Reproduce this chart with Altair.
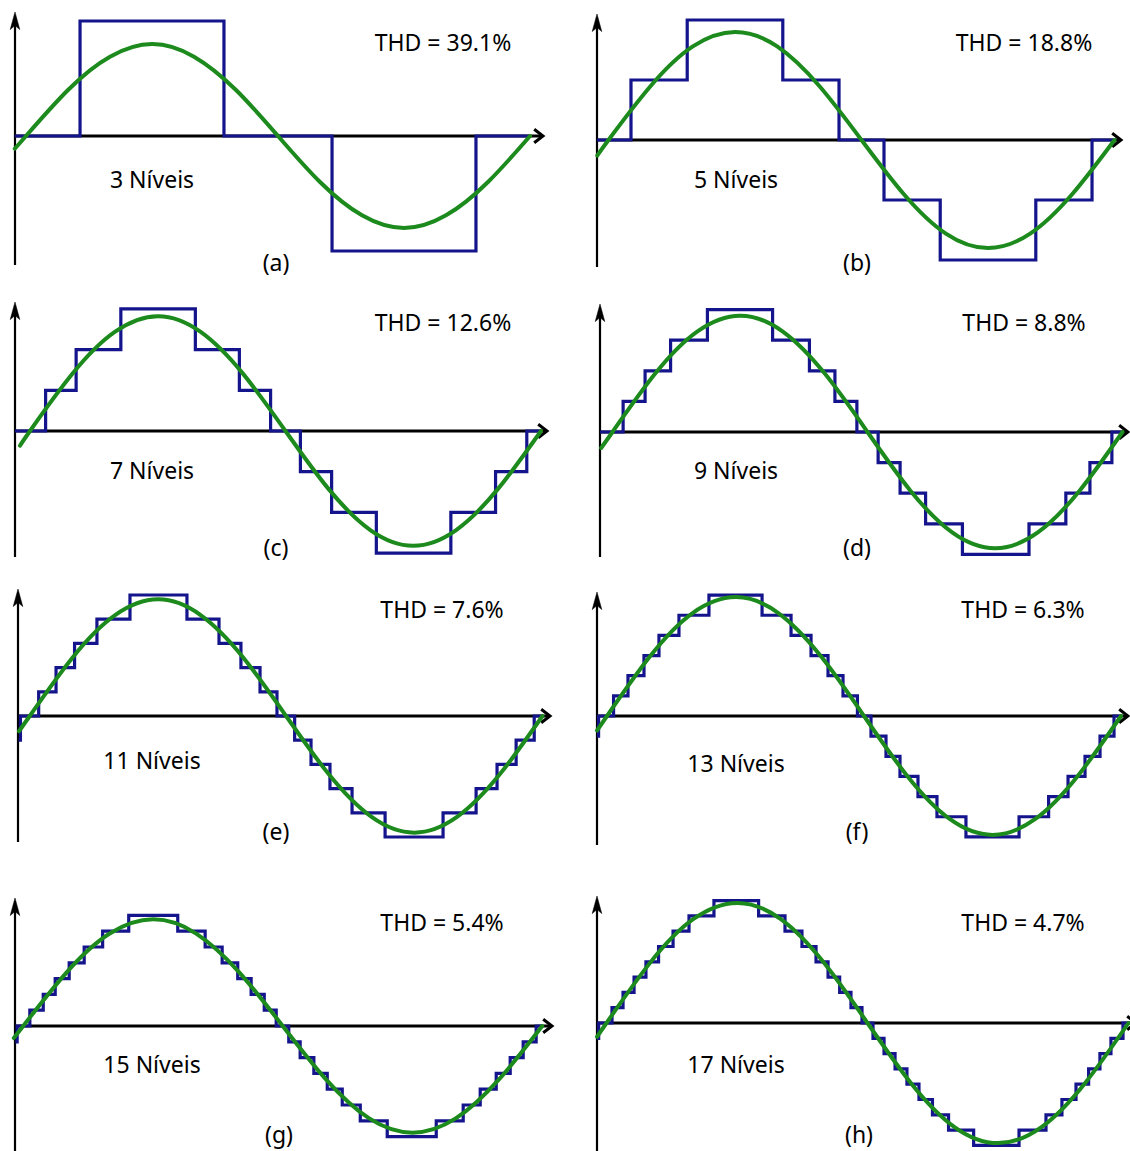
import altair as alt
import pandas as pd

# ---------------- data ----------------
KEYS = ["a", "b", "c", "d", "e", "f", "g", "h"]
THD_TEXT = ["THD = 39.1%", "THD = 18.8%", "THD = 12.6%", "THD = 8.8%",
            "THD = 7.6%", "THD = 6.3%", "THD = 5.4%", "THD = 4.7%"]
NIVEIS_TEXT = ["3 Níveis", "5 Níveis", "7 Níveis", "9 Níveis",
               "11 Níveis", "13 Níveis", "15 Níveis", "17 Níveis"]
SUB_TEXT = ["(a)", "(b)", "(c)", "(d)", "(e)", "(f)", "(g)", "(h)"]

# staircase: angle (degrees of the fundamental) where each level starts, and the level
step_a_ang = [-7.9, 38.6, 141.4, 218.6, 321.4, 360]
step_a_lvl = [0, 1, 0, -1, 0, 0]
step_b_ang = [-8.2, 16, 56, 124, 164, 196, 236, 304, 344, 360]
step_b_lvl = [0, 1, 2, 1, 0, -1, -2, -1, 0, 0]
step_c_ang = [-10.6, 11, 32.5, 64, 116.5, 147.5, 169.5, 190.5, 212.5, 244, 296.5, 328, 350, 360]
step_c_lvl = [0, 1, 2, 3, 2, 1, 0, -1, -2, -3, -2, -1, 0, 0]
step_d_ang = [-8.8, 7.5, 23, 41, 67, 113, 139, 157, 172.5, 187.5, 203, 221, 247, 294, 320, 337, 352.5, 360]
step_d_lvl = [0, 1, 2, 3, 4, 3, 2, 1, 0, -1, -2, -3, -4, -3, -2, -1, 0, 0]
step_e_ang = [-7.8, -6.5, 6.3, 18.5, 31.5, 47.2, 70.4, 110.4, 132.9, 148.3, 161.7, 173.6,
              186, 197.5, 210.8, 226.3, 249.5, 290.2, 313.4, 328.1, 341.5, 354.2, 360]
step_e_lvl = [-1, 0, 1, 2, 3, 4, 5, 4, 3, 2, 1, 0,
              -1, -2, -3, -4, -5, -4, -3, -2, -1, 0, 0]
step_f_ang = [-7.0, -5.9, 4.6, 14.7, 25.9, 36.4, 50.4, 71.4, 108.6, 128.9, 142.9, 154.8, 165.3, 175.4,
              184.9, 195.4, 205.2, 217.8, 231.1, 251.4, 288.6, 309.3, 322.9, 334.8, 345.3, 355.1, 360]
step_f_lvl = [-1, 0, 1, 2, 3, 4, 5, 6, 5, 4, 3, 2, 1, 0,
              -1, -2, -3, -4, -5, -6, -5, -4, -3, -2, -1, 0, 0]
step_g_ang = [-5.5, -4.2, 4.6, 13.9, 22.2, 31.9, 42.3, 55.1, 73.2, 107.2, 126.2, 138, 148.8, 158.1, 167.2,
              175.5, 184.2, 192.1, 201.6, 210.9, 221.3, 233.8, 252.5, 286.5, 305.2, 317, 328.1, 337.8,
              346.8, 355.8, 360]
step_g_lvl = [-1, 0, 1, 2, 3, 4, 5, 6, 7, 6, 5, 4, 3, 2, 1,
              0, -1, -2, -3, -4, -5, -6, -7, -6, -5, -4, -3, -2,
              -1, 0, 0]
step_h_ang = [-6.6, -5.4, 3.8, 11.4, 19, 27.2, 35.9, 45.9, 56.9, 74.1, 104.9, 123.1, 134.8, 144.5, 152.8,
              160.8, 168.6, 176.2, 183.8, 191.4, 199, 207.2, 215.5, 224.8, 235.9, 253.2, 284.5, 303.1,
              314.1, 323.8, 332.5, 340.3, 347.9, 356.2, 360]
step_h_lvl = [-1, 0, 1, 2, 3, 4, 5, 6, 7, 8, 7, 6, 5, 4, 3,
              2, 1, 0, -1, -2, -3, -4, -5, -6, -7, -8, -7, -6,
              -5, -4, -3, -2, -1, 0, 0]

# green fundamental: value (in levels) read every 30 degrees, plus the start at the y axis
sine_a_ang = [-8, 0, 30, 60, 90, 120, 150, 180, 210, 240, 270, 300, 330, 360]
sine_a_val = [-0.11, 0, 0.40, 0.69, 0.80, 0.69, 0.40, 0, -0.40, -0.69, -0.80, -0.69, -0.40, 0]
sine_b_ang = [-8, 0, 30, 60, 90, 120, 150, 180, 210, 240, 270, 300, 330, 360]
sine_b_val = [-0.26, 0, 0.90, 1.56, 1.80, 1.56, 0.90, 0, -0.90, -1.56, -1.80, -1.56, -0.90, 0]
sine_c_ang = [-7, 0, 30, 60, 90, 120, 150, 180, 210, 240, 270, 300, 330, 360]
sine_c_val = [-0.36, 0, 1.41, 2.44, 2.82, 2.44, 1.41, 0, -1.41, -2.44, -2.82, -2.44, -1.41, 0]
sine_d_ang = [-8, 0, 30, 60, 90, 120, 150, 180, 210, 240, 270, 300, 330, 360]
sine_d_val = [-0.52, 0, 1.90, 3.29, 3.80, 3.29, 1.90, 0, -1.90, -3.29, -3.80, -3.29, -1.90, 0]
sine_e_ang = [-7.5, 0, 30, 60, 90, 120, 150, 180, 210, 240, 270, 300, 330, 360]
sine_e_val = [-0.63, 0, 2.41, 4.17, 4.82, 4.17, 2.41, 0, -2.41, -4.17, -4.82, -4.17, -2.41, 0]
sine_f_ang = [-7, 0, 30, 60, 90, 120, 150, 180, 210, 240, 270, 300, 330, 360]
sine_f_val = [-0.72, 0, 2.95, 5.11, 5.90, 5.11, 2.95, 0, -2.95, -5.11, -5.90, -5.11, -2.95, 0]
sine_g_ang = [-6.5, 0, 30, 60, 90, 120, 150, 180, 210, 240, 270, 300, 330, 360]
sine_g_val = [-0.76, 0, 3.38, 5.85, 6.75, 5.85, 3.38, 0, -3.38, -5.85, -6.75, -5.85, -3.38, 0]
sine_h_ang = [-6.6, 0, 30, 60, 90, 120, 150, 180, 210, 240, 270, 300, 330, 360]
sine_h_val = [-0.90, 0, 3.93, 6.80, 7.85, 6.80, 3.93, 0, -3.93, -6.80, -7.85, -6.80, -3.93, 0]

STEPS = {
    "a": (step_a_ang, step_a_lvl), "b": (step_b_ang, step_b_lvl),
    "c": (step_c_ang, step_c_lvl), "d": (step_d_ang, step_d_lvl),
    "e": (step_e_ang, step_e_lvl), "f": (step_f_ang, step_f_lvl),
    "g": (step_g_ang, step_g_lvl), "h": (step_h_ang, step_h_lvl),
}
SINES = {
    "a": (sine_a_ang, sine_a_val), "b": (sine_b_ang, sine_b_val),
    "c": (sine_c_ang, sine_c_val), "d": (sine_d_ang, sine_d_val),
    "e": (sine_e_ang, sine_e_val), "f": (sine_f_ang, sine_f_val),
    "g": (sine_g_ang, sine_g_val), "h": (sine_h_ang, sine_h_val),
}

# ---------------- layout (pixels) ----------------
W = 565
ROW_TOP = [0, 285, 575, 870]
ROW_H = [285, 290, 295, 281]
# zero: x pixel of 0 deg; ppd: px per degree; axis: y pixel of level 0; ppl: px per level
LAYOUT = {
    "a": dict(col=0, row=0, zero=26.0, ppd=1.400, axis=136, ppl=115.0, yx=15, ytop=12, ybot=265, tip=543,
              thd=(443, 44), niv=(152, 181), sub=(276, 264)),
    "b": dict(col=1, row=0, zero=608.5, ppd=1.4056, axis=140, ppl=60.0, yx=597, ytop=14, ybot=267, tip=1121,
              thd=(459, 44), niv=(171, 181), sub=(292, 264)),
    "c": dict(col=0, row=1, zero=30.0, ppd=1.4194, axis=431, ppl=40.7, yx=15, ytop=302, ybot=557, tip=547,
              thd=(443, 39), niv=(152, 187), sub=(276, 264)),
    "d": dict(col=1, row=1, zero=612.5, ppd=1.4167, axis=432, ppl=30.6, yx=600, ytop=304, ybot=557, tip=1128,
              thd=(459, 39), niv=(171, 187), sub=(292, 264)),
    "e": dict(col=0, row=2, zero=29.7, ppd=1.4244, axis=716, ppl=24.2, yx=18, ytop=589, ybot=842, tip=550,
              thd=(442, 36), niv=(152, 187), sub=(276, 258)),
    "f": dict(col=1, row=2, zero=607.0, ppd=1.4278, axis=716, ppl=20.15, yx=597, ytop=592, ybot=845, tip=1128,
              thd=(458, 36), niv=(171, 190), sub=(292, 258)),
    "g": dict(col=0, row=3, zero=23.2, ppd=1.4417, axis=1026, ppl=15.8, yx=15, ytop=898, ybot=1151, tip=552,
              thd=(442, 54), niv=(152, 196), sub=(279, 266)),
    "h": dict(col=1, row=3, zero=606.5, ppd=1.450, axis=1023, ppl=15.3, yx=597, ytop=896, ybot=1151, tip=1136,
              thd=(458, 54), niv=(171, 196), sub=(294, 266)),
}

BLUE = "#14148c"
GREEN = "#1c8a1c"
FONT = "Noto Sans"
FS = 23
CHEVRON_R = "M-1.1,-0.85L0,0L-1.1,0.85"
ARROW_UP = "M0,0L0.6,2.2L0,1.7L-0.6,2.2Z"


def panel(i, key):
    L = LAYOUT[key]
    x0 = L["col"] * W
    top = ROW_TOP[L["row"]]
    H = ROW_H[L["row"]]

    def xa(px):
        return (px - L["zero"]) / L["ppd"]

    def ya(py):
        return (L["axis"] - py) / L["ppl"]

    xs = alt.Scale(domain=[xa(x0), xa(x0 + W)], nice=False, zero=False)
    ys = alt.Scale(domain=[ya(top + H), ya(top)], nice=False, zero=False)

    def X(f):
        return alt.X(f, type="quantitative", scale=xs, axis=None)

    def Y(f):
        return alt.Y(f, type="quantitative", scale=ys, axis=None)

    xaxis = alt.Chart(pd.DataFrame({"x": [xa(L["yx"])], "x2": [xa(L["tip"] - 1)], "y": [0.0]})).mark_rule(
        color="black", strokeWidth=3, clip=True).encode(x=X("x"), x2="x2:Q", y=Y("y"))
    yaxis = alt.Chart(pd.DataFrame({"x": [xa(L["yx"])], "y": [ya(L["ybot"])], "y2": [ya(L["ytop"] + 6)]})).mark_rule(
        color="black", strokeWidth=2.2, clip=True).encode(x=X("x"), y=Y("y"), y2="y2:Q")
    xarrow = alt.Chart(pd.DataFrame({"x": [xa(L["tip"])], "y": [0.0]})).mark_point(
        shape=CHEVRON_R, filled=False, stroke="black", strokeWidth=3, size=256, opacity=1, clip=True
    ).encode(x=X("x"), y=Y("y"))
    yarrow = alt.Chart(pd.DataFrame({"x": [xa(L["yx"])], "y": [ya(L["ytop"])]})).mark_point(
        shape=ARROW_UP, filled=True, fill="black", stroke="black", strokeWidth=0.5, size=256, opacity=1, clip=True
    ).encode(x=X("x"), y=Y("y"))

    sa, sl = STEPS[key]
    steps = alt.Chart(pd.DataFrame({"x": sa, "y": sl})).mark_line(
        interpolate="step-after", color=BLUE, strokeWidth=3.2, strokeJoin="miter", clip=True
    ).encode(x=X("x"), y=Y("y"))

    ga, gv = SINES[key]
    sine = alt.Chart(pd.DataFrame({"x": ga, "y": gv})).mark_line(
        interpolate="natural", color=GREEN, strokeWidth=4, strokeCap="round", clip=True
    ).encode(x=X("x"), y=Y("y"))

    def label(text, pos):
        return alt.Chart(pd.DataFrame({"t": [text]})).mark_text(
            font=FONT, fontSize=FS, color="black", align="center", baseline="middle"
        ).encode(text="t:N", x=alt.value(pos[0]), y=alt.value(pos[1]))

    return alt.layer(
        xaxis, yaxis, xarrow, yarrow, steps, sine,
        label(THD_TEXT[i], L["thd"]), label(NIVEIS_TEXT[i], L["niv"]), label(SUB_TEXT[i], L["sub"]),
    ).properties(width=W, height=H)


panels = [panel(i, k) for i, k in enumerate(KEYS)]
chart = alt.concat(*panels, columns=2, spacing=0, bounds="flush").properties(
    padding=0, background="white"
).configure_view(stroke=None)

chart.save("out.html", embed_options={"renderer": "svg", "actions": False})
